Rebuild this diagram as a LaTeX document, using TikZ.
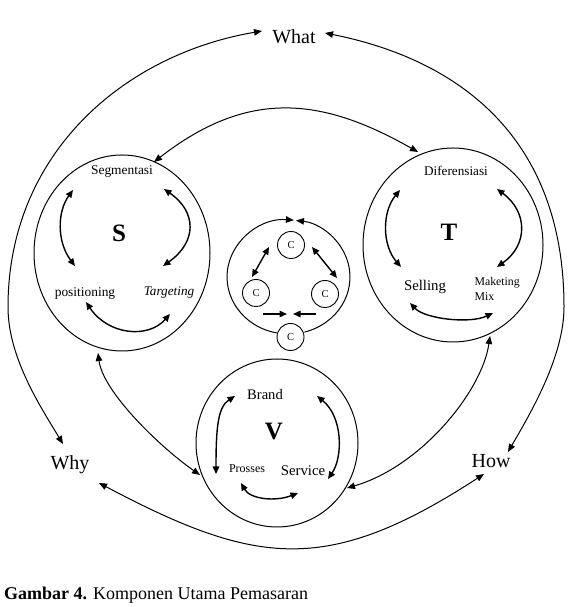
\documentclass[tikz,border=0pt]{standalone}
\usepackage{fontspec}
\setmainfont{Liberation Serif}
\usetikzlibrary{arrows.meta,shapes.geometric}
\begin{document}
\begin{tikzpicture}[x=1pt,y=1pt,
  ring/.style={draw, ellipse, line width=1pt, inner sep=0pt},
  cring/.style={draw, circle, line width=0.9pt, fill=white, inner sep=0pt, minimum size=27pt, font=\fontsize{10.5}{12}\selectfont},
  conn/.style={line width=1pt, {Triangle[length=8pt,width=6.5pt]}-{Triangle[length=8pt,width=6.5pt]}},
  onetip/.style={line width=1pt, -{Triangle[length=8pt,width=6.5pt]}},
  dbl/.style={line width=1.4pt, {Triangle[length=7.5pt,width=6.5pt]}-{Triangle[length=7.5pt,width=6.5pt]}},
  sgl/.style={line width=1.4pt, -{Triangle[length=7.5pt,width=6.5pt]}},
  big/.style={font=\fontsize{20}{24}\selectfont},
  letter/.style={font=\fontsize{25}{28}\selectfont\bfseries},
  lbl/.style={font=\fontsize{13.4}{16}\selectfont}
]
\useasboundingbox (0,0) rectangle (568,607);

% main labels
\node[big] (what) at (294,570) {What};
\node[big] (why) at (70,142) {Why};
\node[big] (how) at (491,146) {How};

% rings
\node[ring, minimum width=176pt, minimum height=196pt] (Sc) at (122,354) {};
\node[ring, minimum width=180pt, minimum height=194pt] (Tc) at (453,362) {};
\node[ring, minimum width=162pt, minimum height=168pt] (Vc) at (277,164) {};

% S
\node[letter] (S) at (119,374) {S};
\node[lbl] (seg) at (122,435) {Segmentasi};
\node[lbl] (pos) at (85,313) {positioning};
\node[lbl, font=\fontsize{13.2}{16}\selectfont\itshape] (tar) at (169,314) {Targeting};
\coordinate (s1) at (73,417); \coordinate (s2) at (75,341);
\coordinate (s3) at (164,418); \coordinate (s4) at (163,341);
\coordinate (s5) at (86,305); \coordinate (s6) at (170,293);
\draw[dbl] (s1) .. controls (57,395) and (57,365) .. (s2);
\draw[dbl] (s3) .. controls (197,395) and (197,365) .. (s4);
\draw[dbl] (s5) .. controls (108,272) and (148,268) .. (s6);

% T
\node[letter] (T) at (449,375) {T};
\node[lbl, font=\fontsize{13.2}{16}\selectfont] (dif) at (456,436) {Diferensiasi};
\node[font=\fontsize{14.8}{17}\selectfont] (sel) at (425,320) {Selling};
\node[font=\fontsize{11.8}{15}\selectfont, align=left, anchor=west] (mm) at (471,318.5) {Maketing\\Mix};
\coordinate (t1) at (400,417); \coordinate (t2) at (401,340);
\coordinate (t3) at (497,418); \coordinate (t4) at (497,340);
\coordinate (t5) at (410,304); \coordinate (t6) at (493,294);
\draw[dbl] (t1) .. controls (382,395) and (382,362) .. (t2);
\draw[dbl] (t3) .. controls (528,395) and (528,362) .. (t4);
\draw[dbl] (t5) .. controls (425,288) and (470,283) .. (t6);

% V
\node[letter] (V) at (274,175) {V};
\node[font=\fontsize{14.6}{17}\selectfont] (brand) at (265,212) {Brand};
\node[font=\fontsize{12}{14}\selectfont] (pro) at (247,138) {Prosses};
\node[font=\fontsize{14.8}{17}\selectfont] (ser) at (303,136) {Service};
\coordinate (v1) at (235,211); \coordinate (v2) at (216,133);
\coordinate (v3) at (317,211); \coordinate (v4) at (328,128);
\coordinate (v5) at (241,124); \coordinate (v6) at (298,114);
\draw[dbl] (v2) .. controls (216,180) and (218,200) .. (v1);
\draw[dbl] (v3) .. controls (343,190) and (343,150) .. (v4);
\draw[dbl] (v5) .. controls (250,108) and (275,105) .. (v6);

% centre C ring
\coordinate (cl) at (276.8,274.05);
\coordinate (cr) at (304.4,274.9);
\draw[onetip] (cl) arc[start angle=259, end angle=85, x radius=61.5, y radius=57];
\draw[onetip] (cr) arc[start angle=-75, end angle=83, x radius=61.5, y radius=57];
\node[cring] (ctop) at (291,362) {C};
\node[cring] (cleft) at (256,314) {C};
\node[cring] (cright) at (325,313) {C};
\node[cring] (cbot) at (290.5,270) {C};
\coordinate (c1) at (269,360); \coordinate (c2) at (252,330);
\coordinate (c3) at (312,360); \coordinate (c4) at (337,329);
\coordinate (c5) at (263,293); \coordinate (c6) at (287,293);
\coordinate (c7) at (316,293); \coordinate (c8) at (293,293);
\draw[dbl] (c1) -- (c2);
\draw[dbl] (c3) -- (c4);
\draw[sgl] (c5) -- (c6);
\draw[sgl] (c7) -- (c8);

% connectors
\coordinate (whatL) at (262,576);
\coordinate (whatR) at (325,574);
\coordinate (whyT) at (63,163);
\coordinate (howT) at (508,155);
\coordinate (whyB) at (99,124);
\coordinate (howB) at (484,133);
\draw[conn] (whyT) .. controls (40,201) and (8,250) .. (8,300)
  .. controls (8,452) and (122,552) .. (whatL);
\draw[conn] (howT) .. controls (530,193) and (564,250) .. (564,300)
  .. controls (564,460) and (470,545) .. (whatR);
\draw[conn] (whyB) .. controls (256,41) and (327,31) .. (howB);

\coordinate (sTop) at (154,445);
\coordinate (tTop) at (418,455);
\draw[conn] (sTop) .. controls (249,519) and (323,509) .. (tTop);

\coordinate (sBot) at (98,254);
\coordinate (vLeft) at (200,132);
\draw[conn] (sBot) .. controls (103,215) and (160,160) .. (vLeft);

\coordinate (tBot) at (490,271);
\coordinate (vRight) at (347,119);
\draw[conn] (tBot) .. controls (482,215) and (420,140) .. (vRight);

% caption
\node[anchor=west, font=\fontsize{18}{21}\selectfont, inner sep=0pt] (cap) at (4,12) {\textbf{Gambar 4.} Komponen Utama Pemasaran};
\end{tikzpicture}
\end{document}
